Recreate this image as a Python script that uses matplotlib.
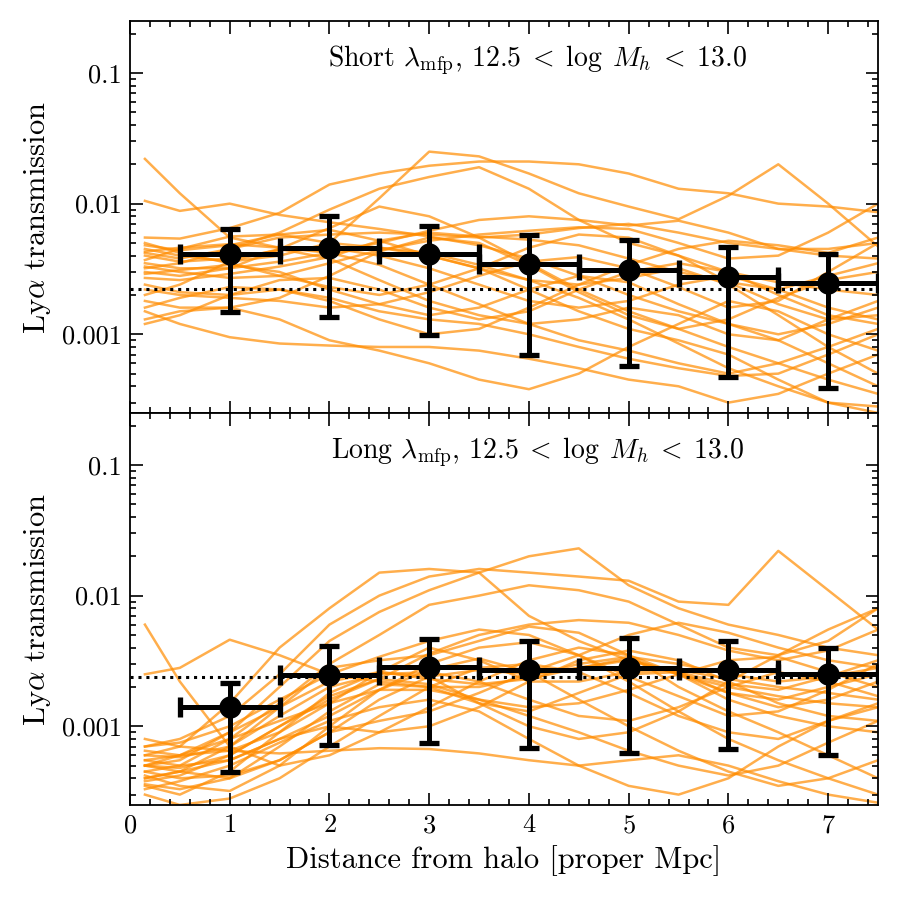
import numpy as np
import matplotlib
matplotlib.use("Agg")
import matplotlib.pyplot as plt
from matplotlib.ticker import FixedLocator, FixedFormatter, MultipleLocator, NullFormatter

plt.rcParams['font.family'] = 'serif'
plt.rcParams['font.serif'] = ['cmr10', 'DejaVu Serif']
plt.rcParams['mathtext.fontset'] = 'cm'
plt.rcParams['axes.unicode_minus'] = False
plt.rcParams['axes.formatter.use_mathtext'] = True

# ---------------- data ----------------
x_grid = [0.15, 0.5, 1.0, 1.5, 2.0, 2.5, 3.0, 3.5, 4.0, 4.5, 5.0, 5.5, 6.0, 6.5, 7.0, 7.5]

# sightline transmission (units of 1e-3), short mean free path
short_lines = [
    [22, 12, 5.5, 4.6, 4.2, 3.4, 2.4, 1.7, 1.2, 0.9, 0.75, 0.6, 0.5, 0.6, 0.8, 1.1],
    [10.5, 8.8, 10, 8.2, 7.2, 6.4, 5.6, 4.8, 3.8, 2.8, 2.0, 1.5, 1.2, 1.0, 1.2, 1.6],
    [5.5, 5.4, 6.5, 8.5, 14, 17, 19.5, 21, 21, 20, 17, 13, 12, 10, 9.5, 8.6],
    [4.5, 4.0, 3.6, 4.0, 5.0, 11, 25, 23, 17, 12, 9.5, 7.6, 11.5, 20, 10, 4.7],
    [3.2, 3.5, 4.5, 6.0, 9.0, 13, 16, 19, 13, 7.5, 5.0, 4.0, 3.0, 2.5, 2.2, 2.0],
    [4.2, 3.8, 4.5, 5.5, 5.8, 6.0, 5.8, 5.5, 5.8, 6.5, 7.0, 6.0, 5.0, 4.5, 4.0, 3.8],
    [3.0, 2.8, 3.2, 4.5, 6.5, 9.5, 8.0, 5.5, 3.5, 2.2, 1.5, 1.1, 0.8, 0.6, 0.45, 0.35],
    [2.7, 2.6, 2.9, 3.3, 3.9, 5.2, 6.0, 5.6, 5.3, 4.8, 3.8, 3.0, 2.5, 2.2, 2.8, 3.5],
    [2.0, 2.4, 3.6, 4.5, 3.8, 2.6, 1.8, 1.4, 1.2, 1.3, 1.6, 1.4, 1.0, 0.9, 1.3, 1.8],
    [1.8, 1.6, 1.6, 1.9, 2.8, 4.3, 5.5, 5.0, 3.4, 2.1, 1.4, 1.1, 1.3, 1.9, 2.6, 3.0],
    [1.5, 1.2, 0.95, 0.85, 0.82, 0.8, 0.8, 0.75, 0.65, 0.55, 0.45, 0.4, 0.3, 0.35, 0.5, 0.7],
    [1.3, 1.5, 1.6, 1.3, 0.9, 0.75, 0.6, 0.45, 0.38, 0.5, 0.8, 1.2, 1.8, 1.5, 1.0, 0.75],
    [1.2, 1.4, 2.0, 2.6, 2.7, 2.2, 1.6, 1.3, 1.5, 2.2, 3.0, 3.5, 3.0, 2.0, 1.4, 1.2],
    [5.0, 4.2, 3.5, 2.8, 2.3, 2.0, 2.4, 3.2, 4.6, 5.8, 5.5, 4.0, 2.5, 1.7, 1.3, 1.4],
    [4.0, 3.6, 3.8, 4.4, 4.6, 4.0, 3.2, 2.4, 1.8, 1.6, 1.8, 2.4, 2.8, 2.2, 1.6, 1.3],
    [3.5, 3.2, 3.2, 3.6, 4.2, 4.6, 4.2, 3.4, 2.6, 1.9, 1.3, 0.85, 0.55, 0.4, 0.3, 0.28],
    [2.4, 2.1, 2.0, 2.2, 1.8, 1.3, 1.0, 1.1, 1.6, 2.4, 3.4, 4.5, 5.2, 4.8, 4.2, 5.5],
    [2.2, 2.0, 1.9, 1.8, 1.6, 1.7, 2.1, 2.8, 3.6, 3.9, 3.2, 2.3, 1.6, 1.8, 3.0, 5.0],
    [1.6, 1.9, 2.3, 2.2, 1.9, 1.5, 1.3, 1.2, 1.0, 0.8, 0.65, 0.55, 0.48, 0.5, 0.7, 1.0],
    [4.8, 4.4, 4.8, 5.8, 6.3, 5.2, 4.0, 3.2, 2.6, 2.4, 2.7, 3.2, 2.4, 1.4, 0.8, 0.5],
    [3.3, 3.0, 2.7, 2.8, 3.5, 4.4, 5.2, 5.8, 6.2, 6.6, 6.4, 5.0, 3.8, 4.0, 6.0, 10],
    [2.9, 3.1, 3.4, 3.0, 2.2, 1.7, 1.4, 1.6, 2.2, 2.8, 2.5, 1.7, 1.2, 0.9, 0.6, 0.4],
    [3.7, 4.5, 5.6, 5.8, 5.0, 4.6, 4.0, 3.2, 2.2, 1.5, 1.1, 0.9, 0.7, 0.45, 0.3, 0.25],
    [4.3, 4.6, 4.9, 4.6, 4.3, 5.0, 6.2, 7.5, 8.0, 7.5, 6.8, 7.4, 6.0, 4.5, 4.5, 5.0],
]

# sightline transmission (units of 1e-3), long mean free path
long_lines = [
    [6.0, 2.2, 0.7, 0.5, 0.6, 0.9, 1.4, 2.2, 3.2, 4.0, 3.5, 2.5, 1.8, 1.6, 2.0, 2.5],
    [2.5, 2.8, 4.6, 3.5, 2.5, 2.2, 2.0, 2.0, 2.4, 3.0, 3.4, 3.0, 2.5, 2.2, 2.4, 2.8],
    [0.6, 0.7, 1.5, 4.0, 8.0, 15, 16, 15, 7.0, 4.5, 3.2, 2.5, 2.0, 1.7, 1.5, 1.4],
    [0.5, 0.55, 0.9, 2.0, 4.5, 7.5, 11, 15, 20, 23, 12, 8.0, 6.0, 5.0, 4.0, 3.5],
    [0.7, 0.8, 1.2, 2.5, 6.0, 10, 14, 16, 15, 14, 13, 9.0, 8.5, 22, 11, 5.5],
    [0.45, 0.5, 0.8, 1.5, 3.0, 5.0, 8.5, 10, 12, 11, 9.0, 6.0, 4.0, 3.5, 4.5, 8.0],
    [0.4, 0.45, 0.7, 1.4, 2.8, 3.2, 3.5, 4.5, 5.8, 5.2, 3.5, 2.0, 1.3, 0.9, 0.6, 0.4],
    [0.55, 0.6, 0.9, 1.4, 2.2, 2.6, 2.3, 2.1, 2.3, 2.8, 3.2, 2.6, 1.8, 1.4, 1.6, 2.2],
    [0.7, 0.75, 1.0, 1.6, 2.5, 3.4, 4.5, 5.5, 5.0, 3.5, 2.4, 1.7, 1.2, 1.3, 1.9, 3.0],
    [0.35, 0.3, 0.45, 0.9, 1.8, 2.6, 2.4, 1.5, 1.0, 0.8, 0.9, 1.3, 2.2, 3.5, 5.5, 8.0],
    [0.3, 0.25, 0.28, 0.4, 0.7, 1.2, 2.0, 2.8, 3.0, 2.6, 1.8, 1.2, 0.9, 0.8, 1.1, 1.5],
    [0.8, 0.7, 0.65, 0.62, 0.65, 0.68, 0.67, 0.62, 0.55, 0.5, 0.55, 0.6, 0.5, 0.38, 0.3, 0.26],
    [0.4, 0.45, 0.55, 0.8, 1.2, 1.9, 2.7, 3.3, 2.6, 1.6, 1.0, 0.65, 0.45, 0.35, 0.4, 0.55],
    [0.5, 0.6, 0.8, 1.1, 1.5, 1.9, 1.9, 1.6, 1.4, 1.5, 1.9, 2.5, 3.2, 3.4, 2.6, 2.0],
    [0.55, 0.5, 0.55, 0.8, 1.0, 0.9, 1.0, 1.4, 2.2, 3.2, 3.8, 3.2, 2.2, 1.5, 1.2, 1.1],
    [0.6, 0.58, 0.7, 1.2, 2.0, 2.5, 2.6, 2.2, 1.6, 1.2, 1.1, 1.4, 2.0, 2.6, 2.2, 1.7],
    [0.38, 0.42, 0.6, 1.0, 1.6, 2.3, 3.6, 5.0, 6.0, 6.5, 6.2, 5.0, 3.8, 3.2, 3.8, 5.5],
    [0.33, 0.38, 0.5, 0.75, 1.1, 1.4, 1.6, 1.3, 0.8, 0.5, 0.35, 0.3, 0.4, 0.7, 1.1, 1.4],
    [0.45, 0.4, 0.42, 0.55, 0.9, 1.6, 2.4, 2.7, 2.5, 2.8, 3.3, 2.5, 1.6, 1.2, 1.0, 0.9],
    [0.5, 0.48, 0.6, 1.0, 1.7, 2.3, 2.1, 1.6, 1.2, 0.9, 0.65, 0.5, 0.42, 0.5, 0.75, 1.1],
    [0.65, 0.6, 0.65, 0.9, 1.5, 2.6, 4.0, 3.2, 2.2, 2.2, 2.6, 2.7, 2.3, 2.0, 1.8, 1.6],
    [0.42, 0.35, 0.32, 0.5, 1.0, 1.9, 3.0, 4.0, 4.4, 3.5, 2.2, 1.3, 0.8, 0.55, 0.4, 0.3],
    [0.36, 0.33, 0.4, 0.7, 1.3, 2.1, 2.0, 1.5, 1.3, 1.8, 2.5, 2.6, 2.1, 1.9, 2.4, 3.2],
    [0.5, 0.45, 0.4, 0.55, 0.9, 1.1, 1.3, 1.8, 2.6, 3.5, 5.0, 6.2, 5.2, 4.0, 3.2, 2.8],
]

# binned means with error bars
bin_x = [1, 2, 3, 4, 5, 6, 7]
bin_xerr = 0.5

short_mean = [0.0041, 0.00456, 0.0041, 0.00344, 0.00309, 0.00273, 0.00246]
short_hi = [0.0064, 0.0080, 0.0067, 0.00574, 0.00525, 0.00464, 0.0041]
short_lo = [0.00148, 0.00135, 0.00098, 0.00069, 0.00057, 0.00047, 0.00039]
short_ref = 0.00221

long_mean = [0.0014, 0.00246, 0.00283, 0.00268, 0.00278, 0.00268, 0.0025]
long_hi = [0.00214, 0.0041, 0.00464, 0.00448, 0.00472, 0.00448, 0.00396]
long_lo = [0.00045, 0.000715, 0.00075, 0.00068, 0.00063, 0.00067, 0.0006]
long_ref = 0.00237

panel_titles = [r'Short $\lambda_{\rm mfp}$, $12.5\;<\;\log\; M_h\;<\;13.0$',
                r'Long $\lambda_{\rm mfp}$, $12.5\;<\;\log\; M_h\;<\;13.0$']
ytick_vals = [0.001, 0.01, 0.1]
ytick_labels = ['0.001', '0.01', '0.1']

# ---------------- plot ----------------
fig = plt.figure(figsize=(9, 9), dpi=100)
gs = fig.add_gridspec(2, 1, left=0.1444, right=0.9756, top=0.9767, bottom=0.1056, hspace=0)
axes = [fig.add_subplot(gs[0]), fig.add_subplot(gs[1])]

panels = [
    (short_lines, short_mean, short_hi, short_lo, short_ref),
    (long_lines, long_mean, long_hi, long_lo, long_ref),
]

minor_y = [m * 10.0 ** e for e in range(-4, 0) for m in range(2, 10)]

for ax, (lines, mean, hi, lo, ref), title in zip(axes, panels, panel_titles):
    for ln in lines:
        ax.plot(x_grid, np.array(ln) * 1e-3, color='#ff8c00', alpha=0.7, lw=1.8, zorder=1)
    ax.axhline(ref, color='black', ls=(0, (1, 1.6)), lw=2.2, zorder=2)
    mean = np.array(mean)
    yerr = [mean - np.array(lo), np.array(hi) - mean]
    ax.errorbar(bin_x, mean, xerr=bin_xerr, yerr=yerr, fmt='o', color='black',
                ms=15, elinewidth=3.6, capsize=7, capthick=3.8, zorder=3, clip_on=True)
    ax.set_yscale('log')
    ax.set_ylim(2.5e-4, 0.25)
    ax.set_xlim(0, 7.5)
    ax.yaxis.set_major_locator(FixedLocator(ytick_vals))
    ax.yaxis.set_major_formatter(FixedFormatter(ytick_labels))
    ax.yaxis.set_minor_locator(FixedLocator(minor_y))
    ax.yaxis.set_minor_formatter(NullFormatter())
    ax.xaxis.set_major_locator(MultipleLocator(1))
    ax.xaxis.set_minor_locator(MultipleLocator(0.2))
    ax.tick_params(which='both', direction='in', top=True, right=True, width=1.2)
    ax.tick_params(which='major', length=9, labelsize=19, pad=6)
    ax.tick_params(which='minor', length=4.5)
    for s in ax.spines.values():
        s.set_linewidth(1.3)
    ax.set_ylabel(r'Ly$\alpha$ transmission', fontsize=22, labelpad=6)
    ax.text(0.545, 0.90, title, transform=ax.transAxes, ha='center', va='center', fontsize=20)

axes[0].tick_params(labelbottom=False)
axes[1].set_xlabel('Distance from halo [proper Mpc]', fontsize=22, labelpad=6)

fig.savefig('out.png', dpi=100)
